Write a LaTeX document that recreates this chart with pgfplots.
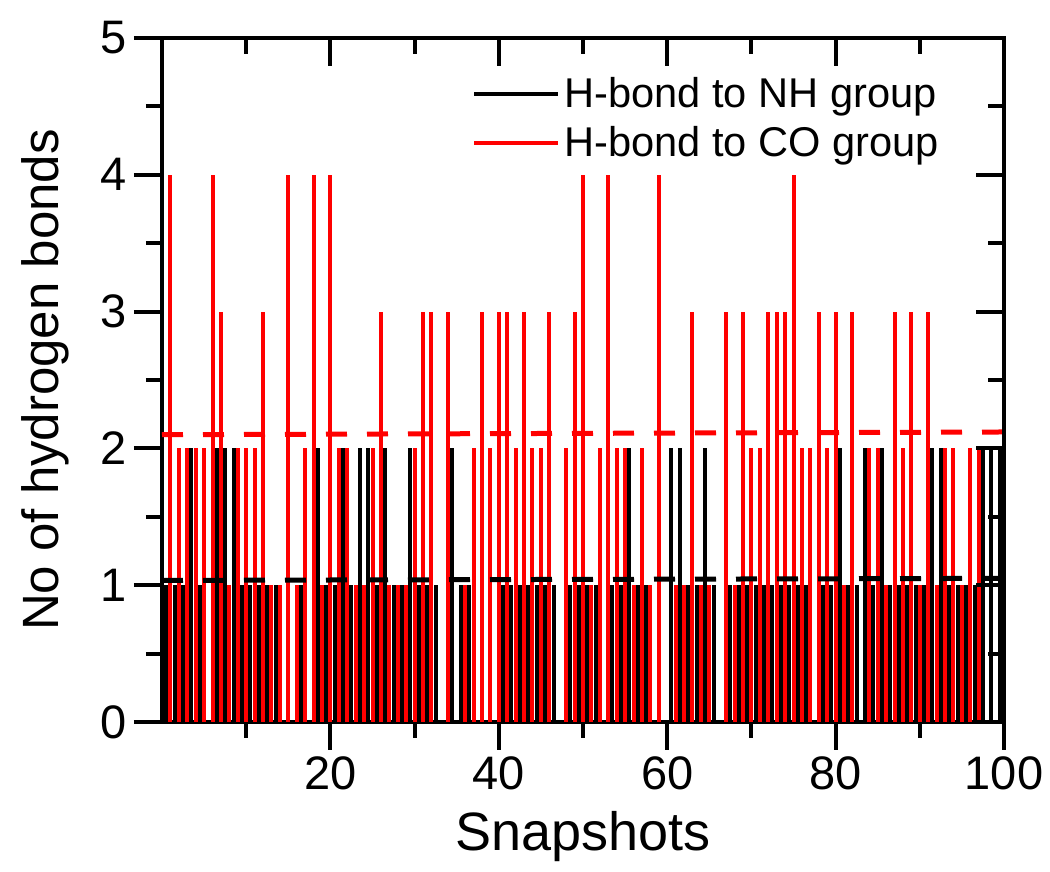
\documentclass[border=0pt]{standalone}
\usepackage{fontspec}
\setmainfont{Liberation Sans}
\usepackage{pgfplots}
\pgfplotsset{compat=1.18}
\usepackage{pgfplotstable}

% H-bonds to NH group (black), one value per snapshot
\pgfplotstableread{
x y
0.5 1
1.5 1
2.5 1
3.5 2
4.5 1
5.5 0
6.5 2
7.5 2
8.5 2
9.5 1
10.5 1
11.5 1
12.5 1
13.5 1
14.5 0
15.5 0
16.5 1
17.5 0
18.5 2
19.5 1
20.5 1
21.5 2
22.5 1
23.5 2
24.5 2
25.5 1
26.5 2
27.5 1
28.5 1
29.5 2
30.5 1
31.5 1
32.5 1
33.5 0
34.5 2
35.5 1
36.5 1
37.5 0
38.5 0
39.5 0
40.5 1
41.5 1
42.5 1
43.5 1
44.5 1
45.5 1
46.5 1
47.5 0
48.5 1
49.5 1
50.5 1
51.5 1
52.5 0
53.5 1
54.5 1
55.5 2
56.5 1
57.5 1
58.5 0
59.5 0
60.5 2
61.5 2
62.5 1
63.5 1
64.5 2
65.5 1
66.5 0
67.5 1
68.5 1
69.5 1
70.5 1
71.5 1
72.5 1
73.5 1
74.5 1
75.5 1
76.5 1
77.5 0
78.5 1
79.5 1
80.5 2
81.5 1
82.5 1
83.5 2
84.5 1
85.5 2
86.5 1
87.5 1
88.5 1
89.5 1
90.5 1
91.5 2
92.5 2
93.5 1
94.5 1
95.5 1
96.5 1
97.5 2
98.5 2
99.5 2
}\nhdata

% H-bonds to CO group (red)
\pgfplotstableread{
x y
1 4
2 2
3 2
4 2
5 2
6 4
7 3
8 1
9 2
10 2
11 2
12 3
13 1
14 1
15 4
16 1
17 2
18 4
19 1
20 4
21 2
22 2
23 1
24 1
25 2
26 3
27 1
28 1
29 1
30 2
31 3
32 3
33 0
34 3
35 0
36 1
37 2
38 3
39 2
40 3
41 3
42 2
43 3
44 2
45 2
46 3
47 0
48 2
49 3
50 4
51 1
52 2
53 4
54 2
55 2
56 1
57 2
58 1
59 4
60 0
61 1
62 1
63 3
64 1
65 1
66 0
67 3
68 1
69 3
70 2
71 2
72 3
73 3
74 3
75 4
76 2
77 2
78 3
79 2
80 3
81 1
82 3
83 0
84 2
85 2
86 1
87 3
88 2
89 3
90 1
91 3
92 1
93 2
94 2
95 1
96 2
97 2
98 0
99 0
100 0
}\codata

\begin{document}
\begin{tikzpicture}
\path[use as bounding box] (-81pt,-75pt) rectangle (444pt,361pt);

\begin{axis}[
    at={(0,0)}, anchor=south west,
    scale only axis, width=421pt, height=342pt,
    xmin=0, xmax=100, ymin=0, ymax=5,
    axis x line*=bottom, axis y line*=left,
    axis line style={line width=2pt, -, line cap=rect},
    tick align=outside,
    major tick length=14pt, minor tick length=8pt,
    tick style={black, line width=2pt},
    xtick={20,40,60,80,100}, minor xtick={10,30,50,70,90},
    ytick={0,1,2,3,4,5}, minor ytick={0.5,1.5,2.5,3.5,4.5},
    tick label style={font=\fontsize{23.5}{24}\selectfont},
    /pgf/number format/assume math mode=true,
    xlabel={Snapshots}, ylabel={No of hydrogen bonds},
    xlabel style={font=\fontsize{27}{27}\selectfont,
        at={(axis description cs:0.5,-0.168)}, anchor=center},
    ylabel style={font=\fontsize{25.5}{26}\selectfont,
        at={(axis description cs:-0.139,0.5)}, anchor=center},
    legend style={at={(0.935,0.955)}, anchor=north east, draw=none, fill=none,
        font=\fontsize{20.8}{24}\selectfont, row sep=4pt},
    legend cell align=left,
]
\addplot[ycomb, draw=black, line width=2pt, mark=none,
    legend image code/.code={\draw[black, line width=2pt] (0pt,0pt) -- (42pt,0pt);}]
    table {\nhdata};
\addlegendentry{H-bond to NH group}
\addplot[ycomb, draw=red, line width=2pt, mark=none,
    legend image code/.code={\draw[red, line width=2pt] (0pt,0pt) -- (42pt,0pt);}]
    table {\codata};
\addlegendentry{H-bond to CO group}

% running averages
\addplot[red, line width=2.5pt, dash pattern=on 10.5pt off 10pt, forget plot]
    coordinates {(0,2.10) (100,2.12)};
\addplot[black, line width=2.5pt, dash pattern=on 10.5pt off 10pt, forget plot]
    coordinates {(0,1.035) (100,1.05)};
\end{axis}

% top and right frame with inward ticks
\begin{axis}[
    at={(0,0)}, anchor=south west,
    scale only axis, width=421pt, height=342pt,
    xmin=0, xmax=100, ymin=0, ymax=5,
    axis x line*=top, axis y line*=right,
    axis line style={line width=2pt, -, line cap=rect},
    tick align=inside,
    major tick length=14pt, minor tick length=8pt,
    tick style={black, line width=2pt},
    xtick={20,40,60,80,100}, minor xtick={10,30,50,70,90},
    ytick={0,1,2,3,4,5}, minor ytick={0.5,1.5,2.5,3.5,4.5},
    xticklabels={}, yticklabels={},
]
\end{axis}
\end{tikzpicture}
\end{document}
